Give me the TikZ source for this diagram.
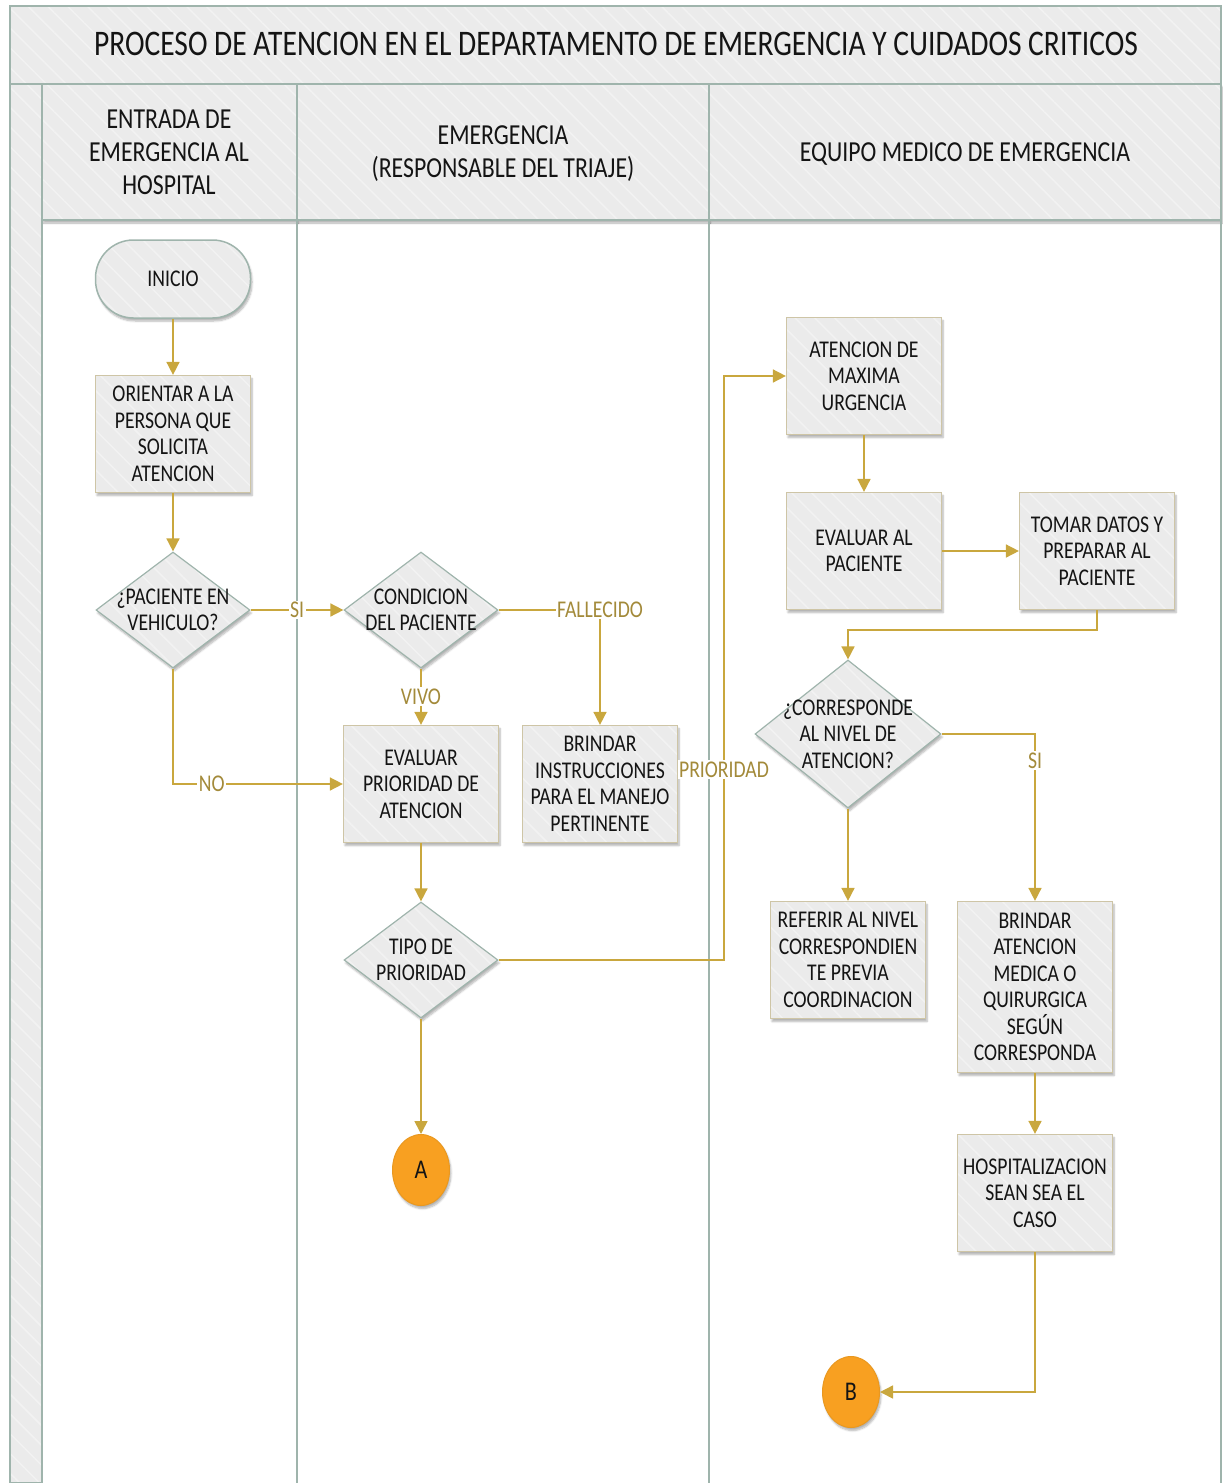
\documentclass[tikz,border=0pt]{standalone}
\usepackage{fontspec}
\setmainfont[FakeStretch=0.82]{Carlito}
\usetikzlibrary{arrows.meta,shapes.geometric,shadows.blur,patterns.meta}

\definecolor{frameln}{HTML}{9FB4AC}
\definecolor{cellfill}{HTML}{EBEBEB}
\definecolor{hatchln}{HTML}{F2F2F2}
\definecolor{boxln}{HTML}{CEC5A6}
\definecolor{flow}{HTML}{C9A73E}
\definecolor{flowtxt}{HTML}{A38A3A}
\definecolor{dotfill}{HTML}{F8A021}
\definecolor{dotln}{HTML}{E99820}
\definecolor{ink}{HTML}{141414}

\newcommand{\bodyfont}{\fontsize{24}{26.5}\selectfont}
\newcommand{\headfont}{\fontsize{29}{33}\selectfont}
\newcommand{\titlefont}{\fontsize{36}{40}\selectfont}

\tikzset{
  softshadow/.style={blur shadow={shadow xshift=1.5pt, shadow yshift=-3pt,
      shadow opacity=30, shadow blur steps=6}},
  hatched/.style={preaction={fill=cellfill},
      pattern={Lines[angle=-45,distance=14pt,line width=1.5pt]},
      pattern color=hatchln},
  lane/.style={draw=frameln, line width=2.5pt},
  process/.style={rectangle, draw=boxln, line width=1.2pt, softshadow, hatched,
      minimum width=155pt, minimum height=117pt, inner sep=2pt,
      align=center, font=\bodyfont, text=ink},
  terminal/.style={rectangle, rounded corners=38pt, draw=frameln, line width=1.5pt,
      softshadow, hatched, minimum width=155pt, minimum height=78pt,
      align=center, font=\bodyfont, text=ink},
  decision/.style={diamond, draw=frameln, line width=1.2pt, softshadow, hatched,
      inner sep=0pt},
  dtext/.style={align=center, font=\bodyfont, text=ink},
  offpage/.style={ellipse, fill=dotfill, draw=dotln, line width=1pt, softshadow,
      minimum width=57pt, minimum height=71pt, inner sep=0pt,
      font=\fontsize{27}{30}\selectfont, text=ink},
  connector/.style={draw=flow, line width=1.6pt, -{Triangle[width=13pt,length=13pt]}},
  flowlabel/.style={fill=white, text=flowtxt, font=\bodyfont, inner sep=1.5pt},
}

\begin{document}
\begin{tikzpicture}[x=1pt, y=-1pt]
\useasboundingbox (0,0) rectangle (1223,1483);

% ---- swimlane frame ----
\path[hatched, lane] (10,6) rectangle (1221,84);
\node[font=\titlefont, text=ink] (title) at (616,44)
  {PROCESO DE ATENCION EN EL DEPARTAMENTO DE EMERGENCIA Y CUIDADOS CRITICOS};
\path[hatched, lane] (10,84) rectangle (42,1483);
\path[softshadow, hatched, lane] (42,84) rectangle (297,220);
\path[softshadow, hatched, lane] (297,84) rectangle (709,220);
\path[softshadow, hatched, lane] (709,84) rectangle (1221,220);
\draw[lane] (42,220) -- (42,1483);
\draw[lane] (297,220) -- (297,1483);
\draw[lane] (709,220) -- (709,1483);
\draw[lane] (1221,220) -- (1221,1483);

\node[font=\headfont, align=center, text=ink] (h1) at (169,152)
  {ENTRADA DE\\EMERGENCIA AL\\HOSPITAL};
\node[font=\headfont, align=center, text=ink] (h2) at (503,154)
  {EMERGENCIA\\(RESPONSABLE DEL TRIAJE)};
\node[font=\headfont, align=center, text=ink] (h3) at (965,154)
  {EQUIPO MEDICO DE EMERGENCIA};

% ---- lane 1 ----
\node[terminal] (ini) at (173,279) {INICIO};
\node[process] (ori) at (173,434) {ORIENTAR A LA\\PERSONA QUE\\SOLICITA\\ATENCION};
\node[decision, minimum width=154pt, minimum height=116pt,
      label={[dtext]center:{¿PACIENTE EN\\VEHICULO?}}] (veh) at (173,610) {};

% ---- lane 2 ----
\node[decision, minimum width=154pt, minimum height=116pt,
      label={[dtext]center:{CONDICION\\DEL PACIENTE}}] (cond) at (421,610) {};
\node[process] (evpr) at (421,784) {EVALUAR\\PRIORIDAD DE\\ATENCION};
\node[process] (instr) at (600,784) {BRINDAR\\INSTRUCCIONES\\PARA EL MANEJO\\PERTINENTE};
\node[decision, minimum width=154pt, minimum height=116pt,
      label={[dtext]center:{TIPO DE\\PRIORIDAD}}] (tipo) at (421,960) {};
\node[offpage] (A) at (421,1170) {A};

% ---- lane 3 ----
\node[process] (amu) at (864,376) {ATENCION DE\\MAXIMA\\URGENCIA};
\node[process] (evpa) at (864,551) {EVALUAR AL\\PACIENTE};
\node[process] (tom) at (1097,551) {TOMAR DATOS Y\\PREPARAR AL\\PACIENTE};
\node[decision, minimum width=186pt, minimum height=148pt,
      label={[dtext]center:{¿CORRESPONDE\\AL NIVEL DE\\ATENCION?}}] (corr) at (848,734) {};
\node[process] (ref) at (848,960) {REFERIR AL NIVEL\\CORRESPONDIEN\\TE PREVIA\\COORDINACION};
\node[process, minimum height=171pt] (bam) at (1035,987)
  {BRINDAR\\ATENCION\\MEDICA O\\QUIRURGICA\\SEGÚN\\CORRESPONDA};
\node[process] (hos) at (1035,1193) {HOSPITALIZACION\\SEAN SEA EL\\CASO};
\node[offpage] (B) at (851,1392) {B};

% ---- connectors ----
\coordinate (prbend) at (724,960);
\coordinate (tombend) at (1097,630);

\draw[connector] (ini) -- (ori);
\draw[connector] (ori) -- (veh);
\draw[connector] (veh.east) -- node[flowlabel, pos=0.5] {SI} (cond.west);
\draw[connector] (veh.south) |- node[flowlabel, pos=0.614] {NO} (evpr.west);
\draw[connector] (cond.south) -- node[flowlabel] {VIVO} (evpr.north);
\draw[connector] (cond.east) -| node[flowlabel, pos=0.5] {FALLECIDO} (instr.north);
\draw[connector] (evpr) -- (tipo);
\draw[connector] (tipo) -- (A);
\draw[connector] (tipo.east) -- (prbend) |- node[flowlabel, pos=0.163] {PRIORIDAD} (amu.west);
\draw[connector] (amu) -- (evpa);
\draw[connector] (evpa) -- (tom);
\draw[connector] (tom.south) -- (tombend) -| (corr.north);
\draw[connector] (corr.east) -| node[flowlabel, pos=0.58] {SI} (bam.north);
\draw[connector] (corr) -- (ref);
\draw[connector] (bam) -- (hos);
\draw[connector] (hos.south) |- (B.east);
\end{tikzpicture}
\end{document}
